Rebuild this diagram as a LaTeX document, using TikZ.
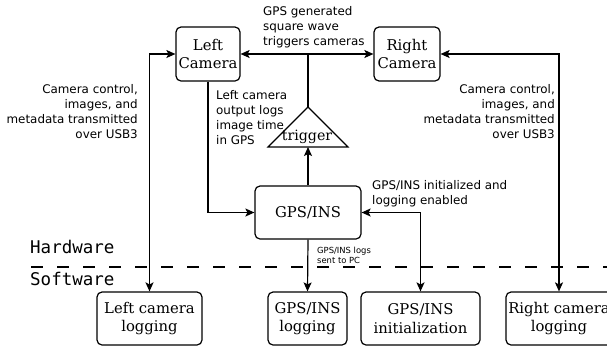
\documentclass[tikz,border=0pt]{standalone}
\usepackage{fontspec}
\setmainfont{DejaVu Serif}
\setsansfont{DejaVu Sans}
\setmonofont{DejaVu Sans Mono}
\usetikzlibrary{arrows.meta}

\tikzset{
  blk/.style={draw,rectangle,rounded corners=5pt,line width=1.2pt,align=center,inner sep=0pt,
    minimum height=53pt,font=\fontsize{14.8}{18.5}\selectfont},
  note/.style={inner sep=0pt,font=\sffamily\fontsize{11.9}{15}\selectfont},
  link/.style={line width=1.2pt},
  >={Stealth[length=9pt,width=8pt,inset=2pt]},
}

\begin{document}
\begin{tikzpicture}[x=1pt,y=-1pt]
\useasboundingbox (0,0) rectangle (607,349);

\node [blk,minimum width=64pt,minimum height=54pt] (lcam) at(208,54){Left\\Camera};
\node [blk,minimum width=66pt,minimum height=54pt] (rcam) at(407,54){Right\\Camera};
\node [blk,minimum width=106pt] (gps) at(308,212.5){GPS/INS};

\node [blk,minimum width=105pt] (lcamlog) at(149.5,318.5){Left camera\\logging};
\node [blk,minimum width=79pt] (gpslog) at(307.5,318.5){GPS/INS\\logging};
\node [blk,minimum width=119pt] (gpsinit) at(420.5,318.5){GPS/INS\\initialization};
\node [blk,minimum width=106pt] (rcamlog) at(559,318.5){Right camera\\logging};

% trigger
\coordinate (trigtop) at(308,107);
\coordinate (trigbase) at(308,147);
\draw[link] (trigbase) ++(-40,0) -- (trigtop) -- ++(40,40) -- cycle;
\node [inner sep=0pt,anchor=base,font=\fontsize{14.2}{17}\selectfont] (trig) at(307,140){trigger};

\draw[link,<->](lcam.east) -- (rcam.west);
\draw[link](trigtop) -- (trigtop |- lcam.east);
\draw[link,->](gps.north) -- (trigbase);
\draw[link,<->](lcam.west) -| (lcamlog.north);
\draw[link,<->](rcam.east) -| (rcamlog.north);
\draw[link,->](lcam.south) |- (gps.west);
\draw[link,<->](gps.east) -| (gpsinit.north);
\draw[link,->](gps.south) -- (gpslog.north);

\coordinate (hwl) at(31,267);
\coordinate (hwr) at(607,267);
\draw[link,dash pattern=on 12pt off 14pt](hwl) -- (hwr);
\node [inner sep=0pt,anchor=base west,font=\ttfamily\fontsize{17.5}{20}\selectfont] (hw) at(30,253){Hardware};
\node [inner sep=0pt,anchor=base west,font=\ttfamily\fontsize{17.5}{20}\selectfont] (sw) at(30,285){Software};

\node [note,align=left,anchor=north west] (trignote) at(263,6){GPS generated\\square wave\\triggers cameras};
\node [note,align=right,anchor=north east] (lusb) at(138,84){Camera control,\\images, and\\metadata transmitted\\over USB3};
\node [note,align=right,anchor=north east] (rusb) at(555,84){Camera control,\\images, and\\metadata transmitted\\over USB3};
\node [note,align=left,anchor=north west] (lcamnote) at(216,90){Left camera\\output logs\\image time\\in GPS};
\node [note,align=left,anchor=north west] (initnote) at(372,180){GPS/INS initialized and\\logging enabled};
\node [inner sep=0pt,align=left,anchor=north west,font=\sffamily\fontsize{8.4}{9.5}\selectfont] (lognote) at(317,247){GPS/INS logs\\sent to PC};
\end{tikzpicture}
\end{document}
